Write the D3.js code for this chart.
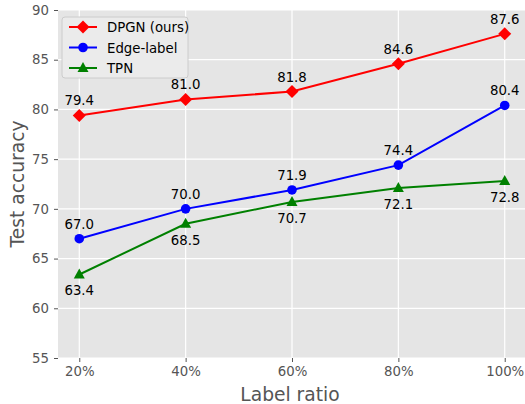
<!DOCTYPE html>
<html>
<head>
<meta charset="utf-8">
<script src="https://cdn.jsdelivr.net/npm/d3@7"></script>
<style>
  body { margin: 0; background: #fff; }
  text { font-family: "DejaVu Sans", sans-serif; }
</style>
</head>
<body>
<div id="chart"></div>
<script>
var categories = ['20%', '40%', '60%', '80%', '100%'];
var dpgn = [79.4, 81.0, 81.8, 84.6, 87.6];
var edgeLabel = [67.0, 70.0, 71.9, 74.4, 80.4];
var tpn = [63.4, 68.5, 70.7, 72.1, 72.8];
var yTicks = [55, 60, 65, 70, 75, 80, 85, 90];

var width = 525, height = 404;
var plot = { left: 58, right: 526, top: 10, bottom: 358 };

var series = [
  { name: 'DPGN (ours)', values: dpgn, color: '#ff0000', marker: 'diamond', labelPos: 'above' },
  { name: 'Edge-label', values: edgeLabel, color: '#0000ff', marker: 'circle', labelPos: 'above' },
  { name: 'TPN', values: tpn, color: '#008000', marker: 'triangle', labelPos: 'below' }
];

var svg = d3.select('#chart').append('svg')
  .attr('width', width)
  .attr('height', height);

// scales
var step = (plot.right - plot.left) / 4.4;
var xScale = d3.scalePoint()
  .domain(categories)
  .range([plot.left + step * 0.2, plot.right - step * 0.2]);
var yScale = d3.scaleLinear()
  .domain([55, 90])
  .range([plot.bottom, plot.top]);

// background
svg.append('rect')
  .attr('x', plot.left)
  .attr('y', plot.top)
  .attr('width', plot.right - plot.left)
  .attr('height', plot.bottom - plot.top)
  .attr('fill', '#e5e5e5');

// grid
svg.append('g').selectAll('line')
  .data(yTicks)
  .enter().append('line')
  .attr('x1', plot.left).attr('x2', plot.right)
  .attr('y1', function (d) { return yScale(d); })
  .attr('y2', function (d) { return yScale(d); })
  .attr('stroke', '#ffffff').attr('stroke-width', 1.2);
svg.append('g').selectAll('line')
  .data(categories)
  .enter().append('line')
  .attr('y1', plot.top).attr('y2', plot.bottom)
  .attr('x1', function (d) { return xScale(d); })
  .attr('x2', function (d) { return xScale(d); })
  .attr('stroke', '#ffffff').attr('stroke-width', 1.2);

// axes
var xAxis = d3.axisBottom(xScale).tickSize(4).tickPadding(5);
var gx = svg.append('g')
  .attr('transform', 'translate(0,' + plot.bottom + ')')
  .call(xAxis);
gx.select('.domain').remove();
gx.selectAll('line').attr('stroke', '#555').attr('stroke-width', 1);
gx.selectAll('text').attr('fill', '#555').attr('font-size', '13.3px')
  .style('font-family', '"DejaVu Sans", sans-serif');

var yAxis = d3.axisLeft(yScale).tickValues(yTicks).tickSize(4).tickPadding(5);
var gy = svg.append('g')
  .attr('transform', 'translate(' + plot.left + ',0)')
  .call(yAxis);
gy.select('.domain').remove();
gy.selectAll('line').attr('stroke', '#555').attr('stroke-width', 1);
gy.selectAll('text').attr('fill', '#555').attr('font-size', '13.3px')
  .style('font-family', '"DejaVu Sans", sans-serif');

// axis titles
svg.append('text')
  .attr('x', (plot.left + plot.right) / 2 - 2)
  .attr('y', 401)
  .attr('text-anchor', 'middle')
  .attr('font-size', '18.7px')
  .attr('fill', '#555')
  .text('Label ratio');
svg.append('text')
  .attr('transform', 'translate(24,' + ((plot.top + plot.bottom) / 2) + ') rotate(-90)')
  .attr('text-anchor', 'middle')
  .attr('font-size', '18.7px')
  .attr('fill', '#555')
  .text('Test accuracy');

function drawMarker(g, type, color) {
  if (type === 'diamond') {
    g.append('path').attr('d', 'M0,-6.5L6.5,0L0,6.5L-6.5,0Z').attr('fill', color);
  } else if (type === 'circle') {
    g.append('circle').attr('r', 4.8).attr('fill', color);
  } else {
    g.append('path').attr('d', 'M0,-6L5.5,4L-5.5,4Z').attr('fill', color);
  }
}

var line = d3.line()
  .x(function (d, i) { return xScale(categories[i]); })
  .y(function (d) { return yScale(d); });

series.forEach(function (s) {
  svg.append('path')
    .datum(s.values)
    .attr('d', line)
    .attr('fill', 'none')
    .attr('stroke', s.color)
    .attr('stroke-width', 2);

  var pts = svg.append('g').selectAll('g')
    .data(s.values)
    .enter().append('g')
    .attr('transform', function (d, i) {
      return 'translate(' + xScale(categories[i]) + ',' + yScale(d) + ')';
    });
  pts.each(function () { drawMarker(d3.select(this), s.marker, s.color); });

  svg.append('g').selectAll('text')
    .data(s.values)
    .enter().append('text')
    .attr('x', function (d, i) { return xScale(categories[i]); })
    .attr('y', function (d) { return yScale(d) + (s.labelPos === 'above' ? -10 : 21); })
    .attr('text-anchor', 'middle')
    .attr('font-size', '13.3px')
    .attr('fill', '#000')
    .text(function (d) { return d.toFixed(1); });
});

// legend
var legend = svg.append('g').attr('transform', 'translate(62,17)');
legend.append('rect')
  .attr('width', 126).attr('height', 61)
  .attr('rx', 3)
  .attr('fill', '#ebebeb')
  .attr('stroke', '#cccccc')
  .attr('stroke-width', 1);
series.forEach(function (s, i) {
  var row = legend.append('g').attr('transform', 'translate(0,' + (10 + i * 20.5) + ')');
  row.append('line')
    .attr('x1', 7).attr('x2', 35)
    .attr('stroke', s.color).attr('stroke-width', 2);
  var m = row.append('g').attr('transform', 'translate(21,0)');
  drawMarker(m, s.marker, s.color);
  row.append('text')
    .attr('x', 45).attr('y', 5)
    .attr('font-size', '13.3px')
    .attr('fill', '#000')
    .text(s.name);
});
</script>
</body>
</html>
